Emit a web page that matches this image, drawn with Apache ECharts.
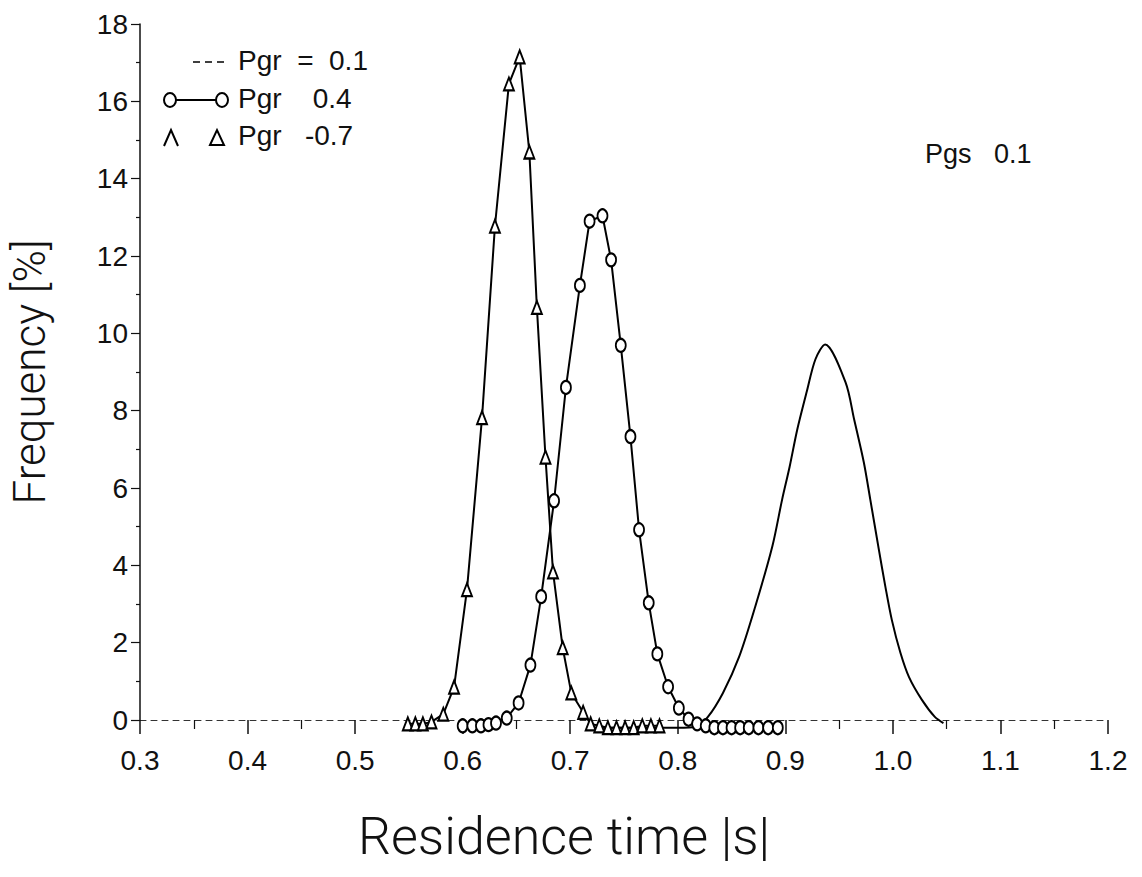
<!DOCTYPE html>
<html>
<head>
<meta charset="utf-8">
<script src="https://cdn.jsdelivr.net/npm/echarts@6/dist/echarts.min.js"></script>
<style>
  html, body { margin: 0; padding: 0; background: #fff; }
  #chart { width: 1142px; height: 877px; }
</style>
</head>
<body>
<div id="chart"></div>
<script>
// Pgr = 0.7 (triangles)
var x07 = [0.549, 0.556, 0.563, 0.571, 0.582, 0.592, 0.604, 0.618, 0.630, 0.643, 0.653, 0.662, 0.669, 0.677, 0.684, 0.693, 0.701, 0.712, 0.719, 0.727, 0.735, 0.743, 0.751, 0.759, 0.767, 0.775, 0.783];
var y07 = [-0.1, -0.1, -0.1, -0.05, 0.15, 0.85, 3.37, 7.82, 12.77, 16.45, 17.15, 14.69, 10.67, 6.8, 3.83, 1.87, 0.7, 0.2, -0.1, -0.15, -0.2, -0.2, -0.2, -0.2, -0.15, -0.15, -0.15];
// Pgr = 0.4 (circles)
var x04 = [0.600, 0.609, 0.617, 0.624, 0.631, 0.641, 0.652, 0.663, 0.673, 0.685, 0.696, 0.709, 0.718, 0.730, 0.738, 0.747, 0.756, 0.764, 0.773, 0.781, 0.791, 0.801, 0.810, 0.818, 0.826, 0.834, 0.842, 0.850, 0.858, 0.866, 0.875, 0.884, 0.893];
var y04 = [-0.15, -0.15, -0.15, -0.12, -0.08, 0.05, 0.44, 1.42, 3.19, 5.67, 8.6, 11.24, 12.9, 13.04, 11.9, 9.69, 7.33, 4.92, 3.03, 1.71, 0.86, 0.31, 0.02, -0.1, -0.15, -0.2, -0.2, -0.2, -0.2, -0.2, -0.2, -0.2, -0.2];
// Pgr = 0.1 (plain curve)
var x01 = [0.72, 0.76, 0.80, 0.817, 0.828, 0.842, 0.857, 0.872, 0.888, 0.897, 0.904, 0.911, 0.920, 0.928, 0.937, 0.956, 0.964, 0.973, 0.979, 0.987, 0.993, 0.999, 1.007, 1.015, 1.027, 1.039, 1.047];
var y01 = [-0.2, -0.2, -0.2, -0.18, 0.08, 0.7, 1.63, 2.93, 4.5, 5.7, 6.55, 7.5, 8.5, 9.33, 9.71, 8.73, 7.77, 6.66, 5.7, 4.4, 3.45, 2.59, 1.74, 1.11, 0.52, 0.08, -0.08];

var legendNames = ['Pgr  =  0.1', 'Pgr    0.4', 'Pgr   -0.7'];
var noteText = 'Pgs   0.1';

function pairs(xs, ys) {
  return xs.map(function (x, i) { return [x, ys[i]]; });
}

var myChart = echarts.init(document.getElementById('chart'), null, { renderer: 'svg' });

var tickFont = { fontFamily: 'Liberation Sans', fontSize: 28, color: '#111' };
var nameFont = { fontFamily: 'Roboto', fontWeight: 300, color: '#111' };
var legendFont = { fontFamily: 'Liberation Sans', fontSize: 28, fill: '#111' };

myChart.setOption({
  animation: false,
  backgroundColor: '#fff',
  grid: { left: 137, right: 34, top: 24, bottom: 157 },
  xAxis: {
    type: 'value',
    min: 0.3,
    max: 1.2,
    interval: 0.1,
    name: 'Residence time |s|',
    nameLocation: 'middle',
    nameGap: 90,
    nameTextStyle: Object.assign({ fontSize: 52, padding: [0, 120, 0, 0] }, nameFont),
    axisLine: { lineStyle: { color: '#333', width: 1, type: [6, 5] } },
    axisTick: { length: 14, lineStyle: { color: '#111', width: 1.5 } },
    minorTick: { show: true, splitNumber: 2, length: 9, lineStyle: { color: '#111', width: 1.2 } },
    axisLabel: Object.assign({ margin: 26, formatter: function (v) { return v.toFixed(1); } }, tickFont),
    splitLine: { show: false }
  },
  yAxis: {
    type: 'value',
    min: 0,
    max: 18,
    interval: 2,
    name: 'Frequency [%]',
    nameLocation: 'middle',
    nameRotate: 90,
    nameGap: 88,
    nameTextStyle: Object.assign({ fontSize: 44 }, nameFont),
    axisLine: { show: true, lineStyle: { color: '#111', width: 1.5 } },
    axisTick: { show: true, length: 9, lineStyle: { color: '#111', width: 1.2 } },
    minorTick: { show: true, splitNumber: 2, length: 4, lineStyle: { color: '#111', width: 1.2 } },
    axisLabel: Object.assign({ margin: 12 }, tickFont),
    splitLine: { show: false }
  },
  series: [
    {
      name: legendNames[0],
      type: 'line',
      data: pairs(x01, y01),
      smooth: 0.3,
      showSymbol: false,
      clip: false,
      lineStyle: { color: '#000', width: 2 }
    },
    {
      name: legendNames[1],
      type: 'line',
      data: pairs(x04, y04),
      symbol: 'emptyCircle',
      symbolSize: [10, 13],
      clip: false,
      lineStyle: { color: '#000', width: 2 },
      itemStyle: { color: '#000', borderColor: '#000', borderWidth: 1.8 }
    },
    {
      name: legendNames[2],
      type: 'line',
      data: pairs(x07, y07),
      symbol: 'emptyTriangle',
      symbolSize: [10, 13],
      clip: false,
      lineStyle: { color: '#000', width: 2 },
      itemStyle: { color: '#000', borderColor: '#000', borderWidth: 1.8 }
    }
  ],
  graphic: [
    // legend
    { type: 'line', shape: { x1: 193, y1: 62, x2: 227, y2: 62 }, style: { stroke: '#000', lineWidth: 1.5, lineDash: [7, 5] } },
    { type: 'text', left: 238, top: 46, style: Object.assign({ text: legendNames[0] }, legendFont) },
    { type: 'line', shape: { x1: 170, y1: 100, x2: 222, y2: 100 }, style: { stroke: '#000', lineWidth: 2 } },
    { type: 'ellipse', shape: { cx: 170, cy: 100, rx: 6, ry: 7 }, style: { fill: '#fff', stroke: '#000', lineWidth: 2 } },
    { type: 'ellipse', shape: { cx: 222, cy: 100, rx: 6, ry: 7 }, style: { fill: '#fff', stroke: '#000', lineWidth: 2 } },
    { type: 'text', left: 238, top: 84, style: Object.assign({ text: legendNames[1] }, legendFont) },
    { type: 'polyline', shape: { points: [[164, 146], [171, 130], [178, 146]] }, style: { fill: 'none', stroke: '#000', lineWidth: 2 } },
    { type: 'polygon', shape: { points: [[210, 145], [217, 130], [224, 145]] }, style: { fill: 'none', stroke: '#000', lineWidth: 2 } },
    { type: 'text', left: 238, top: 121, style: Object.assign({ text: legendNames[2] }, legendFont) },
    // annotation
    { type: 'text', left: 925, top: 140, style: { text: noteText, fontSize: 27, fontFamily: 'Liberation Sans', fill: '#111' } }
  ]
});
</script>
</body>
</html>
